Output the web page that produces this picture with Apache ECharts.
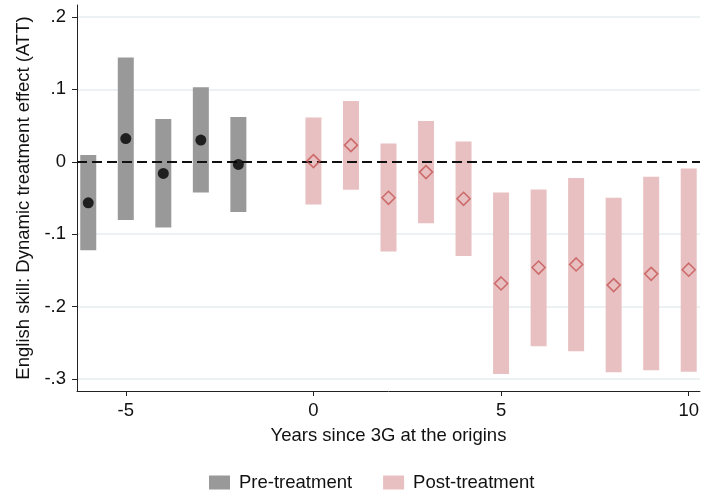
<!DOCTYPE html>
<html>
<head>
<meta charset="utf-8">
<script src="https://cdn.jsdelivr.net/npm/echarts@6/dist/echarts.min.js"></script>
<style>
  html, body { margin: 0; padding: 0; background: #fff; }
  #chart { width: 702px; height: 493px; }
</style>
</head>
<body>
<div id="chart"></div>
<script>
// Event-study estimates: years relative to 3G arrival at the origins
const preYears  = [-6, -5, -4, -3, -2];
const preEst    = [-0.0566, 0.032, -0.016, 0.030, -0.0036];
const preLow    = [-0.122, -0.0805, -0.0906, -0.0423, -0.0695];
const preHigh   = [0.0093, 0.144, 0.059, 0.103, 0.0617];

const postYears = [0, 1, 2, 3, 4, 5, 6, 7, 8, 9, 10];
const postEst   = [0.001, 0.023, -0.0497, -0.0142, -0.0511, -0.168, -0.146, -0.1418, -0.1703, -0.1547, -0.149];
const postLow   = [-0.0589, -0.0386, -0.124, -0.0847, -0.130, -0.293, -0.2546, -0.2615, -0.2905, -0.2877, -0.290];
const postHigh  = [0.0613, 0.0838, 0.0254, 0.0562, 0.0281, -0.0423, -0.0382, -0.0225, -0.0497, -0.0207, -0.0092];

const xTicks = [-5, 0, 5, 10];
const yTicks = [-0.3, -0.2, -0.1, 0, 0.1, 0.2];

const PRE_COLOR = '#999999';
const POST_COLOR = '#e8c0c1';
const FONT = 'Liberation Sans, Arial, sans-serif';
const FS = 18.5;

function yLabel(v) {
  if (Math.abs(v) < 1e-9) return '0';
  return v.toFixed(1).replace('0.', '.');
}

// confidence-interval band drawn as a fixed-width rectangle between low and high
function rangeBar(color) {
  return function (params, api) {
    const x = api.value(0);
    const p1 = api.coord([x, api.value(2)]);
    const p2 = api.coord([x, api.value(1)]);
    const w = 16;
    return {
      type: 'rect',
      shape: { x: p1[0] - w / 2, y: p1[1], width: w, height: p2[1] - p1[1] },
      style: { fill: color }
    };
  };
}

const preRange = preYears.map((x, i) => [x, preLow[i], preHigh[i]]);
const postRange = postYears.map((x, i) => [x, postLow[i], postHigh[i]]);
const prePoints = preYears.map((x, i) => [x, preEst[i]]);
const postPoints = postYears.map((x, i) => [x, postEst[i]]);

const chart = echarts.init(document.getElementById('chart'), null, { renderer: 'canvas' });

chart.setOption({
  animation: false,
  backgroundColor: '#fff',
  textStyle: { fontFamily: FONT },
  grid: { left: 77, right: 1, top: 5, bottom: 102, containLabel: false },
  legend: {
    left: 209,
    top: 473,
    padding: 0,
    itemWidth: 21,
    itemHeight: 14,
    itemGap: 31,
    icon: 'rect',
    textStyle: { fontSize: FS, color: '#111', fontFamily: FONT, padding: [0, 0, 0, 4] },
    data: [
      { name: 'Pre-treatment', itemStyle: { color: PRE_COLOR } },
      { name: 'Post-treatment', itemStyle: { color: POST_COLOR } }
    ]
  },
  xAxis: {
    type: 'value',
    min: -6.3,
    max: 10.3,
    name: 'Years since 3G at the origins',
    nameLocation: 'middle',
    nameGap: 35,
    nameTextStyle: { fontSize: FS, color: '#111', fontFamily: FONT },
    axisLine: { show: true, onZero: false, lineStyle: { color: '#222', width: 1 } },
    axisTick: { show: true, length: 5, lineStyle: { color: '#222' }, customValues: xTicks },
    axisLabel: { fontSize: FS, color: '#111', margin: 10, fontFamily: FONT, customValues: xTicks },
    splitLine: { show: false }
  },
  yAxis: {
    type: 'value',
    min: -0.3165,
    max: 0.2165,
    name: 'English skill: Dynamic treatment effect (ATT)',
    nameLocation: 'middle',
    nameGap: 43,
    nameRotate: 90,
    nameTextStyle: { fontSize: FS, color: '#111', fontFamily: FONT },
    axisLine: { show: true, onZero: false, lineStyle: { color: '#222', width: 1 } },
    axisTick: { show: true, length: 5, lineStyle: { color: '#222' }, customValues: yTicks },
    axisLabel: { fontSize: FS, color: '#111', margin: 11, fontFamily: FONT, customValues: yTicks, formatter: yLabel },
    splitLine: { show: false }
  },
  series: [
    {
      // horizontal reference grid, kept underneath the bands
      name: 'grid',
      type: 'line',
      data: [],
      silent: true,
      z: 0,
      markLine: {
        z: 0,
        silent: true,
        symbol: 'none',
        label: { show: false },
        lineStyle: { color: '#e6edf1', width: 1.5, type: 'solid' },
        data: yTicks.filter(v => Math.abs(v) > 1e-9).map(v => ({ yAxis: v }))
      }
    },
    {
      name: 'Pre-treatment',
      type: 'custom',
      renderItem: rangeBar(PRE_COLOR),
      itemStyle: { color: PRE_COLOR },
      encode: { x: 0, y: [1, 2] },
      data: preRange,
      z: 3
    },
    {
      name: 'Post-treatment',
      type: 'custom',
      renderItem: rangeBar(POST_COLOR),
      itemStyle: { color: POST_COLOR },
      encode: { x: 0, y: [1, 2] },
      data: postRange,
      z: 3
    },
    {
      // zero reference line
      name: 'zero',
      type: 'line',
      data: [],
      silent: true,
      z: 6,
      markLine: {
        z: 6,
        silent: true,
        symbol: 'none',
        label: { show: false },
        lineStyle: { color: '#111', width: 2, type: [10, 5] },
        data: [{ yAxis: 0 }]
      }
    },
    {
      name: 'pre-est',
      type: 'scatter',
      symbol: 'circle',
      symbolSize: 11,
      itemStyle: { color: '#000' },
      data: prePoints,
      z: 8
    },
    {
      name: 'post-est',
      type: 'scatter',
      symbol: 'diamond',
      symbolSize: 13,
      itemStyle: { color: 'rgba(0,0,0,0)', borderColor: '#c55555', borderWidth: 1.6 },
      data: postPoints,
      z: 8
    }
  ]
});
</script>
</body>
</html>
